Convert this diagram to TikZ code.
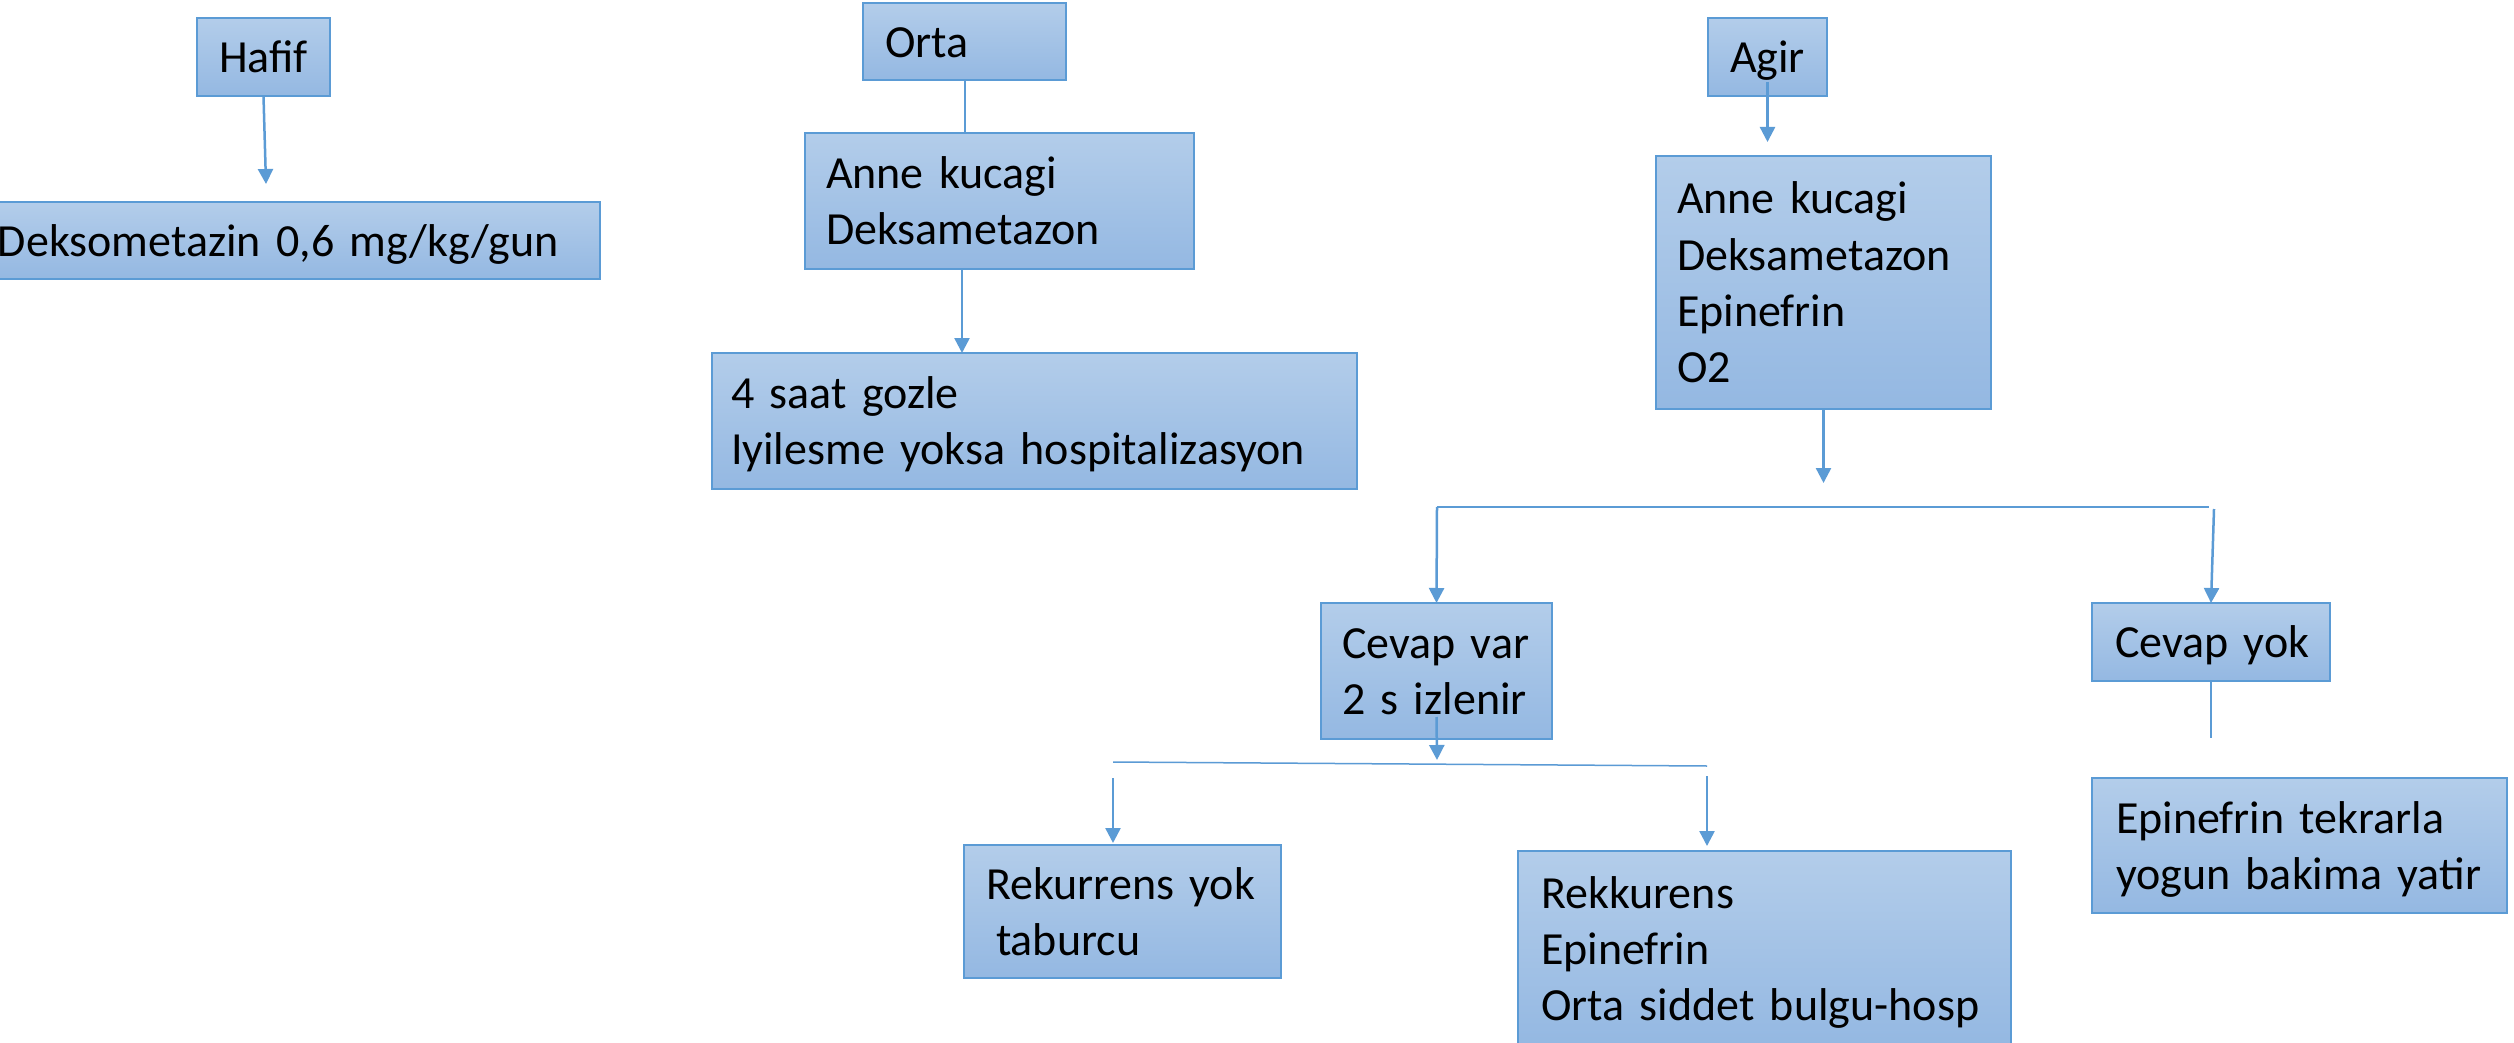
\documentclass[tikz,border=0pt]{standalone}
\usepackage{fontspec}
\setmainfont{Carlito}
\usetikzlibrary{arrows.meta}
\definecolor{bordc}{HTML}{5B9BD5}
\definecolor{topc}{HTML}{B3CDEA}
\definecolor{botc}{HTML}{94B8E2}
\newcommand\ofs{\rule[-0.269em]{0pt}{1.221em}}
\newcommand\bxl[1]{\mbox{#1}\ofs}
\begin{document}
\begin{tikzpicture}[x=1pt,y=-1pt,
  box/.style={draw=bordc, line width=1.5pt, top color=topc, bottom color=botc,
    anchor=north west, align=left, font=\fontsize{46}{56.2}\selectfont,
    inner ysep=0pt, outer sep=0pt},
  arr/.style={draw=bordc, line width=2.5pt, -{Triangle[length=15pt,width=15pt]}},
  ln/.style={draw=bordc, line width=1.5pt}]
\useasboundingbox (0,0) rectangle (2514,1043);
\fill[white] (0,0) rectangle (2514,1043);

% boxes
\node[box, minimum width=133pt, minimum height=78pt, text width=113pt, inner xsep=10pt, align=center] (hafif) at (197,18) {\bxl{Hafif}};
\node[box, minimum width=603pt, minimum height=77pt, text width=601pt, inner xsep=1pt] (deks) at (-3,202) {\bxl{Deksometazin 0,6 mg/kg/gun}};

\node[box, minimum width=203pt, minimum height=77pt, text width=159pt, inner xsep=22pt] (orta) at (863,3) {\bxl{Orta}};
\node[box, minimum width=389pt, minimum height=136pt, text width=347pt, inner xsep=21pt] (anneo) at (805,133) {\bxl{Anne kucagi}\\\bxl{Deksametazon}};
\node[box, minimum width=645pt, minimum height=136pt, text width=607pt, inner xsep=19pt] (saat) at (712,353) {\bxl{4 saat gozle}\\\bxl{Iyilesme yoksa hospitalizasyon}};

\node[box, minimum width=119pt, minimum height=78pt, text width=99pt, inner xsep=10pt, align=center] (agir) at (1708,18) {\bxl{Agir}};
\node[box, minimum width=335pt, minimum height=253pt, text width=293pt, inner xsep=21pt] (annea) at (1656,156) {\bxl{Anne kucagi}\\\bxl{Deksametazon}\\\bxl{Epinefrin}\\\bxl{O2}};

\node[box, minimum width=231pt, minimum height=136pt, text width=189pt, inner xsep=21pt] (cvar) at (1321,603) {\bxl{Cevap var}\\\bxl{2 s izlenir}};
\node[box, minimum width=238pt, minimum height=78pt, text width=192pt, inner xsep=23pt] (cyok) at (2092,603) {\bxl{Cevap yok}};
\node[box, minimum width=415pt, minimum height=135pt, text width=367pt, inner xsep=24pt] (epi) at (2092,778) {\bxl{Epinefrin tekrarla}\\\bxl{yogun bakima yatir}};

\node[box, minimum width=317pt, minimum height=133pt, text width=273pt, inner xsep=22pt] (rek) at (964,845) {\bxl{Rekurrens yok}\\\bxl{\hspace*{10pt}taburcu}};
\node[box, minimum width=493pt, minimum height=195pt, text width=447pt, inner xsep=23pt] (rekk) at (1518,851) {\bxl{Rekkurens}\\\bxl{Epinefrin}\\\bxl{Orta siddet bulgu-hosp}};

% free ends
\coordinate (hafE) at (266,184);
\coordinate (aE) at (1823.5,483);
\coordinate (h1a) at (1437,507);
\coordinate (h1b) at (2209,507);
\coordinate (h1c) at (2214,509);
\coordinate (cyE) at (2211,738);
\coordinate (cvE) at (1437,760);
\coordinate (h2a) at (1113,762);
\coordinate (h2b) at (1707,766);
\coordinate (h2c) at (1113,778);
\coordinate (h2cE) at (1113,843);
\coordinate (h2d) at (1707,776);
\coordinate (h2dE) at (1707,846);

% connectors
\draw[arr] (hafif.south) -- (hafE);
\draw[ln, line width=2pt] (orta.south) -- (orta.south |- anneo.north);
\draw[arr] ([xshift=157pt]anneo.south west) -- ([xshift=157pt]anneo.south west |- saat.north);
\draw[arr] ([yshift=14pt]agir.south) -- ([yshift=14pt]agir.south |- annea.north);
\draw[arr] (annea.south) -- (aE);
\draw[ln] (h1a) -- (h1b);
\draw[arr] (h1a) -- (cvar.north);
\draw[arr] (h1c) -- (cyok.north);
\draw[ln] (cyok.south) -- (cyE);
\draw[arr] ([yshift=22pt]cvar.south) -- (cvE);
\draw[ln] (h2a) -- (h2b);
\draw[arr] (h2c) -- (h2cE);
\draw[arr] (h2d) -- (h2dE);
\end{tikzpicture}
\end{document}
